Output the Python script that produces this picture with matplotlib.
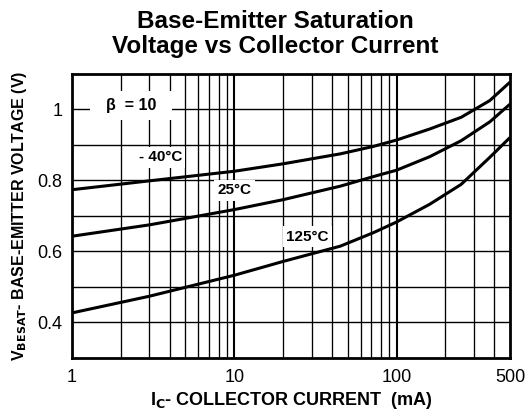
import matplotlib
matplotlib.use("Agg")
import matplotlib.pyplot as plt
import numpy as np

plt.rcParams['font.family'] = ['Liberation Sans', 'DejaVu Sans']

# Data
current_ma = [1, 3, 10, 20, 45, 72, 100, 160, 250, 375, 500]
v_m40 = [0.774, 0.799, 0.826, 0.847, 0.875, 0.896, 0.914, 0.945, 0.978, 1.025, 1.077]
v_25 = [0.643, 0.675, 0.718, 0.746, 0.784, 0.811, 0.829, 0.867, 0.912, 0.965, 1.015]
v_125 = [0.427, 0.474, 0.533, 0.572, 0.615, 0.653, 0.683, 0.733, 0.789, 0.865, 0.921]

labels = ["- 40°C", "25°C", "125°C"]
label_pos = [(3.5, 0.866), (10.0, 0.773), (28.3, 0.642)]
beta_text = "  β  = 10  "
beta_pos = (2.31, 1.012)

xticks = [1, 10, 100, 500]
xticklabels = ["1", "10", "100", "500"]
yticks = [0.4, 0.6, 0.8, 1.0]
yticklabels = ["0.4", "0.6", "0.8", "1"]

fig = plt.figure(figsize=(5.25, 4.12), dpi=100)
ax = fig.add_axes([0.1371, 0.1311, 0.9714 - 0.1371, 0.8204 - 0.1311])
ax.set_xscale('log')
ax.set_xlim(1, 500)
ax.set_ylim(0.3, 1.1)

# grid
for d in [1, 10, 100]:
    for m in range(1, 10):
        v = d * m
        if 1 < v < 500:
            ax.axvline(v, color='black', lw=1.5 if m == 1 else 0.95, zorder=1)
for yv in np.arange(0.4, 1.05, 0.1):
    ax.axhline(yv, color='black', lw=1.0, zorder=1)

for vals in (v_m40, v_25, v_125):
    ax.plot(current_ma, vals, color='black', lw=2.2, zorder=3,
            solid_joinstyle='round', solid_capstyle='butt')

for txt, (x, y) in zip(labels, label_pos):
    ax.text(x, y, txt, ha='center', va='center', fontsize=11, fontweight='bold',
            bbox=dict(facecolor='white', edgecolor='none', pad=2.5), zorder=4)
ax.text(beta_pos[0], beta_pos[1], beta_text, ha='center', va='center', fontsize=11.5,
        fontweight='bold', bbox=dict(facecolor='white', edgecolor='none', pad=5), zorder=4)

ax.set_xticks(xticks)
ax.set_xticklabels(xticklabels)
ax.set_yticks(yticks)
ax.set_yticklabels(yticklabels)
ax.xaxis.set_minor_locator(matplotlib.ticker.NullLocator())
ax.tick_params(axis='x', length=0, labelsize=13, pad=8)
ax.tick_params(axis='y', length=0, labelsize=13, pad=7)
for s in ax.spines.values():
    s.set_linewidth(2.0)
    s.set_zorder(5)

ax.set_xlabel("I$_\\mathbf{C}$- COLLECTOR CURRENT  (mA)", fontsize=13, fontweight='bold', labelpad=3)
ax.set_ylabel("V$_\\mathbf{BESAT}$- BASE-EMITTER VOLTAGE (V)", fontsize=11.5, fontweight='bold', labelpad=6)

fig.text(0.524, 0.975, "Base-Emitter Saturation\nVoltage vs Collector Current", ha='center', va='top',
         fontsize=17.5, fontweight='bold', linespacing=1.1)

fig.savefig("out.png", dpi=100)
